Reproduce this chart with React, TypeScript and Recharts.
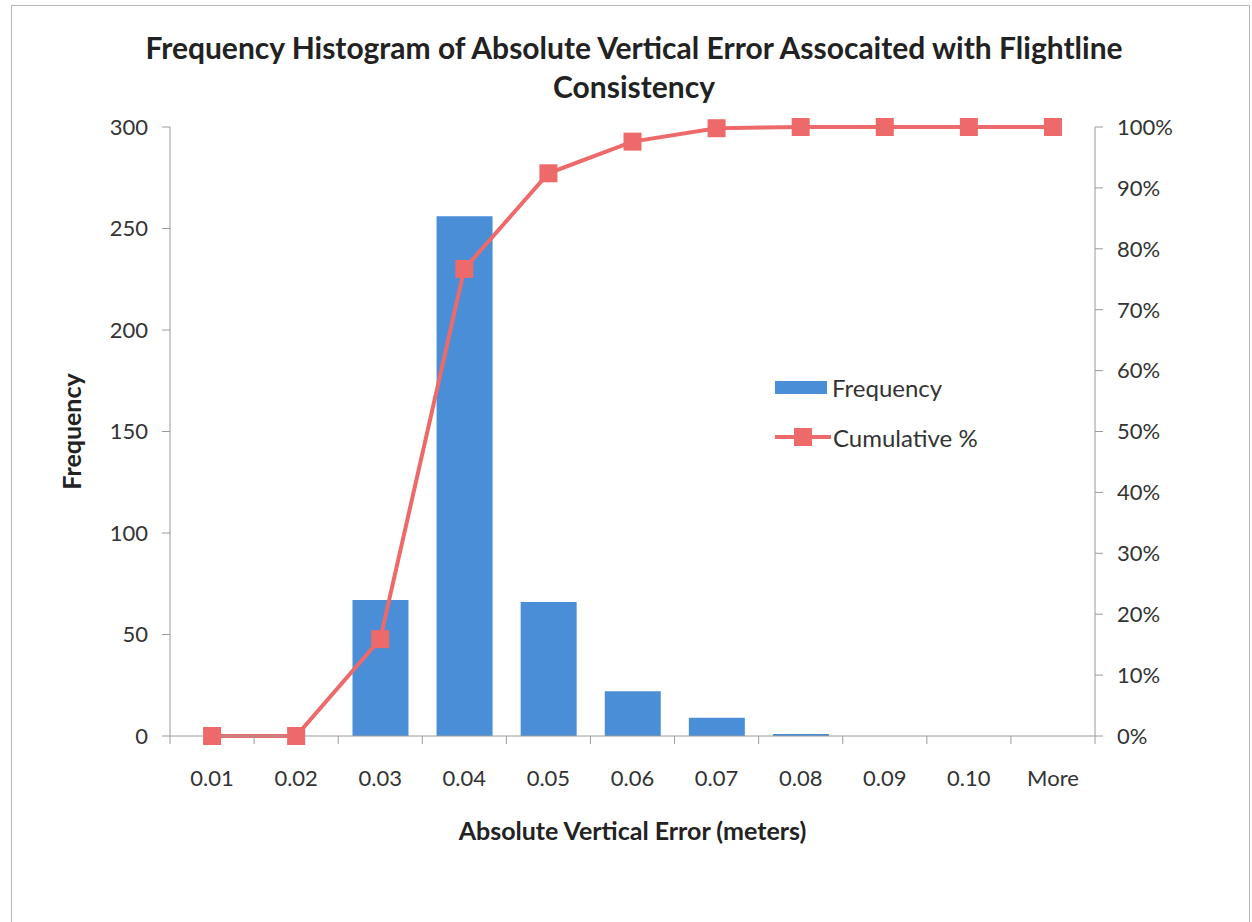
import React from "react";
import {
    ComposedChart,
    Bar,
    Line,
    XAxis,
    YAxis,
    Label,
} from "recharts";

const BINS = ["0.01", "0.02", "0.03", "0.04", "0.05", "0.06", "0.07", "0.08", "0.09", "0.10", "More"];
const FREQUENCY = [0, 0, 67, 256, 66, 22, 9, 1, 0, 0, 0];
const CUMULATIVE = [0, 0, 0.159, 0.767, 0.924, 0.976, 0.998, 1, 1, 1, 1];

const LEFT_TICKS = [0, 50, 100, 150, 200, 250, 300];
const RIGHT_TICKS = [0, 0.1, 0.2, 0.3, 0.4, 0.5, 0.6, 0.7, 0.8, 0.9, 1];

const data = BINS.map((bin, i) => ({
    bin,
    frequency: FREQUENCY[i],
    cumulative: CUMULATIVE[i],
}));

const FONT = "Lato, 'Open Sans', sans-serif";
const BAR_COLOR = "#4a8ed8";
const LINE_COLOR = "#ee6a6a";
const AXIS_COLOR = "#9a9a9a";

const W = 1252;
const H = 922;
const LEFT_W = 70;
const RIGHT_W = 90;
const MARGIN = { top: 127, right: 67, bottom: 126, left: 100 };
const BAND = (W - MARGIN.left - MARGIN.right - LEFT_W - RIGHT_W) / BINS.length;

function SquareDot(props: any) {
    const { cx, cy } = props;
    if (cx == null || cy == null) return null;
    return <rect x={cx - 9} y={cy - 9} width={18} height={18} fill={LINE_COLOR} />;
}

function XTick(props: any) {
    const { x, y, payload, index } = props;
    return (
        <g>
            <line x1={x - BAND / 2} y1={y - 8} x2={x - BAND / 2} y2={y} stroke={AXIS_COLOR} />
            {index === BINS.length - 1 && (
                <line x1={x + BAND / 2} y1={y - 8} x2={x + BAND / 2} y2={y} stroke={AXIS_COLOR} />
            )}
            <text x={x} y={y + 42} textAnchor="middle" fontSize={22} fill="#333" fontFamily={FONT}>
                {payload.value}
            </text>
        </g>
    );
}

function LegendBox() {
    return (
        <div
            style={{
                position: "absolute",
                left: 775,
                top: 372,
                fontFamily: FONT,
                fontSize: 24,
                color: "#333",
            }}
        >
            <div style={{ display: "flex", alignItems: "center", height: 30 }}>
                <span style={{ display: "inline-block", width: 52, height: 13, background: BAR_COLOR, marginRight: 5 }} />
                Frequency
            </div>
            <div style={{ display: "flex", alignItems: "center", height: 30, marginTop: 20 }}>
                <svg width={56} height={22} style={{ marginRight: 2 }}>
                    <line x1={0} y1={11} x2={56} y2={11} stroke={LINE_COLOR} strokeWidth={4} />
                    <rect x={19} y={2} width={18} height={18} fill={LINE_COLOR} />
                </svg>
                Cumulative %
            </div>
        </div>
    );
}

export default function App() {
    return (
        <div style={{ position: "absolute", left: 0, top: 0, width: W, height: H, background: "#fff" }}>
            <div
                style={{
                    position: "absolute",
                    left: 11,
                    top: 5,
                    width: W - 13,
                    height: H - 5,
                    border: "1px solid #b8b8b8",
                    borderBottom: "none",
                    boxSizing: "border-box",
                }}
            />
            <div
                style={{
                    position: "absolute",
                    left: 0,
                    top: 28,
                    width: 1268,
                    textAlign: "center",
                    fontFamily: FONT,
                    fontWeight: 700,
                    fontSize: 30,
                    lineHeight: "39px",
                    color: "#222",
                }}
            >
                Frequency Histogram of Absolute Vertical Error Assocaited with Flightline
                <br />
                Consistency
            </div>
            <ComposedChart width={W} height={H} data={data} margin={MARGIN} barCategoryGap="17%">
                <XAxis
                    dataKey="bin"
                    stroke={AXIS_COLOR}
                    tickLine={false}
                    tick={<XTick />}
                    height={60}
                    interval={0}
                >
                    <Label
                        value="Absolute Vertical Error (meters)"
                        position="insideBottom"
                        offset={-44}
                        style={{ fontFamily: FONT, fontWeight: 700, fontSize: 25, fill: "#222" }}
                    />
                </XAxis>
                <YAxis
                    yAxisId="left"
                    domain={[0, 300]}
                    ticks={LEFT_TICKS}
                    width={LEFT_W}
                    stroke={AXIS_COLOR}
                    tickSize={8}
                    tick={{ fontSize: 22, fill: "#333", fontFamily: FONT }}
                    tickMargin={14}
                >
                    <Label
                        value="Frequency"
                        angle={-90}
                        position="insideLeft"
                        offset={-28}
                        style={{ fontFamily: FONT, fontWeight: 700, fontSize: 25, fill: "#222", textAnchor: "middle" }}
                    />
                </YAxis>
                <YAxis
                    yAxisId="right"
                    orientation="right"
                    domain={[0, 1]}
                    ticks={RIGHT_TICKS}
                    width={RIGHT_W}
                    stroke={AXIS_COLOR}
                    tickSize={8}
                    tickMargin={14}
                    tick={{ fontSize: 22, fill: "#333", fontFamily: FONT, textAnchor: "start" }}
                    tickFormatter={(v: number) => `${Math.round(v * 100)}%`}
                />
                <Bar
                    yAxisId="left"
                    dataKey="frequency"
                    name="Frequency"
                    fill={BAR_COLOR}
                    isAnimationActive={false}
                />
                <Line
                    yAxisId="right"
                    dataKey="cumulative"
                    name="Cumulative %"
                    stroke={LINE_COLOR}
                    strokeWidth={4}
                    dot={<SquareDot />}
                    activeDot={false}
                    type="linear"
                    isAnimationActive={false}
                />
            </ComposedChart>
            <LegendBox />
        </div>
    );
}
